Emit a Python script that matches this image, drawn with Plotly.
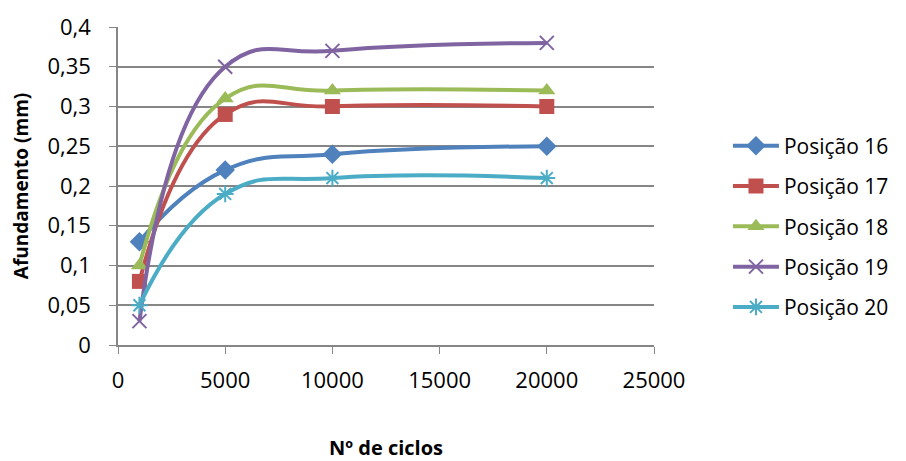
import plotly.graph_objects as go

ciclos = [1000, 5000, 10000, 20000]
pos16 = [0.13, 0.22, 0.24, 0.25]
pos17 = [0.08, 0.29, 0.30, 0.30]
pos18 = [0.10, 0.31, 0.32, 0.32]
pos19 = [0.03, 0.35, 0.37, 0.38]
pos20 = [0.05, 0.19, 0.21, 0.21]

names = ['Posição 16', 'Posição 17', 'Posição 18', 'Posição 19', 'Posição 20']
colors = ['#4F81BD', '#C0504D', '#9BBB59', '#8064A2', '#4BACC6']
symbols = ['diamond', 'square', 'triangle-up', 'x-thin', 'asterisk']

fig = go.Figure()
for i, ys in enumerate([pos16, pos17, pos18, pos19, pos20]):
    thin = symbols[i] in ('x-thin', 'asterisk')
    fig.add_trace(go.Scatter(
        x=ciclos, y=ys, name=names[i], mode='lines+markers',
        legendgroup=names[i],
        line=dict(color=colors[i], width=4, shape='spline', smoothing=1.3),
        marker=dict(symbol=symbols[i], size=15 if not thin else 14, color=colors[i],
                    line=dict(color=colors[i], width=2 if thin else 0)),
    ))

# 8px body margin on the left/top, so the figure is sized to end at the window edge
fig.update_layout(
    width=898, height=453,
    margin=dict(l=110, r=252, t=19, b=116),
    paper_bgcolor='white', plot_bgcolor='white',
    separators=',.',
    font=dict(family='Open Sans, sans-serif', size=22, color='black'),
    legend=dict(x=1.138, y=0.69, xanchor='left', yanchor='top',
                font=dict(size=21), tracegroupgap=10, itemwidth=46),
    xaxis=dict(range=[0, 25000], dtick=5000, tickformat='d', automargin=False,
               showgrid=False, showline=True, linecolor='#868686', linewidth=1.5,
               ticks='outside', ticklen=7, tickcolor='#868686',
               ticklabelstandoff=8, zeroline=False,
               title=dict(text='<b>Nº de ciclos</b>', font=dict(size=20), standoff=56)),
    yaxis=dict(range=[0, 0.4], dtick=0.05, automargin=False,
               showgrid=True, gridcolor='#868686', gridwidth=1.5,
               showline=True, linecolor='#868686', linewidth=1.5,
               ticks='outside', ticklen=7, tickcolor='#868686',
               ticklabelstandoff=14, zeroline=False,
               title=dict(text='<b>Afundamento (mm)</b>', font=dict(size=19), standoff=14)),
)

fig.write_html('out.html')
